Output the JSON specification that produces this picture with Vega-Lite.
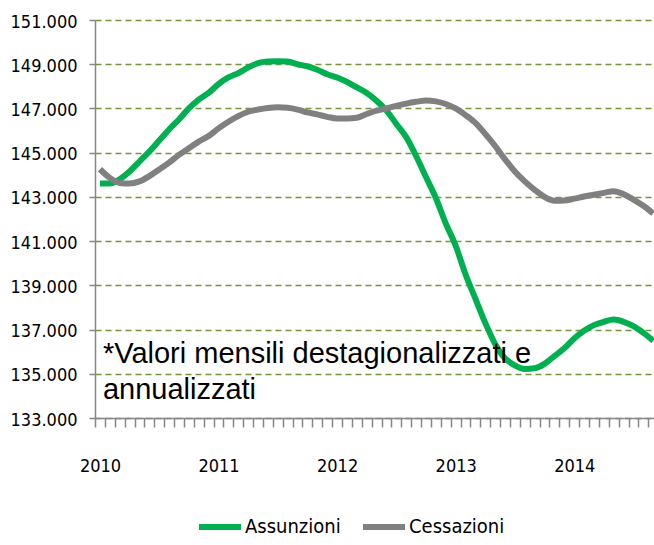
{
  "$schema": "https://vega.github.io/schema/vega-lite/v6.json",
  "autosize": {"type": "none"},
  "width": 559,
  "height": 398,
  "padding": {"left": 95, "top": 20, "right": 0, "bottom": 127},
  "background": "white",
  "config": {"view": {"stroke": null}},
  "layer": [
    {
      "data": {
        "values": [
          {"m": 0, "Assunzioni": 143600, "Cessazioni": 144250},
          {"m": 1, "Assunzioni": 143600, "Cessazioni": 143860},
          {"m": 2, "Assunzioni": 143800, "Cessazioni": 143630},
          {"m": 3, "Assunzioni": 144150, "Cessazioni": 143600},
          {"m": 4, "Assunzioni": 144600, "Cessazioni": 143700},
          {"m": 5, "Assunzioni": 145050, "Cessazioni": 143940},
          {"m": 6, "Assunzioni": 145550, "Cessazioni": 144240},
          {"m": 7, "Assunzioni": 146050, "Cessazioni": 144550},
          {"m": 8, "Assunzioni": 146500, "Cessazioni": 144900},
          {"m": 9, "Assunzioni": 147000, "Cessazioni": 145200},
          {"m": 10, "Assunzioni": 147400, "Cessazioni": 145500},
          {"m": 11, "Assunzioni": 147700, "Cessazioni": 145750},
          {"m": 12, "Assunzioni": 148100, "Cessazioni": 146100},
          {"m": 13, "Assunzioni": 148400, "Cessazioni": 146400},
          {"m": 14, "Assunzioni": 148600, "Cessazioni": 146650},
          {"m": 15, "Assunzioni": 148850, "Cessazioni": 146850},
          {"m": 16, "Assunzioni": 149050, "Cessazioni": 146950},
          {"m": 17, "Assunzioni": 149120, "Cessazioni": 147020},
          {"m": 18, "Assunzioni": 149140, "Cessazioni": 147050},
          {"m": 19, "Assunzioni": 149120, "Cessazioni": 147030},
          {"m": 20, "Assunzioni": 149000, "Cessazioni": 146950},
          {"m": 21, "Assunzioni": 148900, "Cessazioni": 146820},
          {"m": 22, "Assunzioni": 148750, "Cessazioni": 146730},
          {"m": 23, "Assunzioni": 148550, "Cessazioni": 146620},
          {"m": 24, "Assunzioni": 148400, "Cessazioni": 146550},
          {"m": 25, "Assunzioni": 148200, "Cessazioni": 146550},
          {"m": 26, "Assunzioni": 147950, "Cessazioni": 146580},
          {"m": 27, "Assunzioni": 147700, "Cessazioni": 146750},
          {"m": 28, "Assunzioni": 147350, "Cessazioni": 146900},
          {"m": 29, "Assunzioni": 146900, "Cessazioni": 147000},
          {"m": 30, "Assunzioni": 146300, "Cessazioni": 147120},
          {"m": 31, "Assunzioni": 145700, "Cessazioni": 147220},
          {"m": 32, "Assunzioni": 144850, "Cessazioni": 147300},
          {"m": 33, "Assunzioni": 143900, "Cessazioni": 147360},
          {"m": 34, "Assunzioni": 142950, "Cessazioni": 147320},
          {"m": 35, "Assunzioni": 141800, "Cessazioni": 147200},
          {"m": 36, "Assunzioni": 140800, "Cessazioni": 147000},
          {"m": 37, "Assunzioni": 139500, "Cessazioni": 146700},
          {"m": 38, "Assunzioni": 138400, "Cessazioni": 146350},
          {"m": 39, "Assunzioni": 137300, "Cessazioni": 145850},
          {"m": 40, "Assunzioni": 136350, "Cessazioni": 145300},
          {"m": 41, "Assunzioni": 135700, "Cessazioni": 144700},
          {"m": 42, "Assunzioni": 135380, "Cessazioni": 144150},
          {"m": 43, "Assunzioni": 135220, "Cessazioni": 143700},
          {"m": 44, "Assunzioni": 135250, "Cessazioni": 143320},
          {"m": 45, "Assunzioni": 135450, "Cessazioni": 143000},
          {"m": 46, "Assunzioni": 135800, "Cessazioni": 142830},
          {"m": 47, "Assunzioni": 136150, "Cessazioni": 142840},
          {"m": 48, "Assunzioni": 136600, "Cessazioni": 142920},
          {"m": 49, "Assunzioni": 136950, "Cessazioni": 143020},
          {"m": 50, "Assunzioni": 137200, "Cessazioni": 143100},
          {"m": 51, "Assunzioni": 137350, "Cessazioni": 143180},
          {"m": 52, "Assunzioni": 137450, "Cessazioni": 143260},
          {"m": 53, "Assunzioni": 137350, "Cessazioni": 143120},
          {"m": 54, "Assunzioni": 137150, "Cessazioni": 142880},
          {"m": 55, "Assunzioni": 136850, "Cessazioni": 142600},
          {"m": 56, "Assunzioni": 136500, "Cessazioni": 142250}
        ]
      },
      "transform": [{"fold": ["Assunzioni", "Cessazioni"], "as": ["serie", "valore"]}],
      "mark": {"type": "line", "strokeWidth": 6, "interpolate": "monotone", "clip": true},
      "encoding": {
        "x": {
          "field": "m",
          "type": "quantitative",
          "scale": {"domain": [-0.5, 56.08], "nice": false, "zero": false},
          "axis": {
            "title": null,
            "tickCount": 200,
            "values": [-0.5,0.5,1.5,2.5,3.5,4.5,5.5,6.5,7.5,8.5,9.5,10.5,11.5,12.5,13.5,14.5,15.5,16.5,17.5,18.5,19.5,20.5,21.5,22.5,23.5,24.5,25.5,26.5,27.5,28.5,29.5,30.5,31.5,32.5,33.5,34.5,35.5,36.5,37.5,38.5,39.5,40.5,41.5,42.5,43.5,44.5,45.5,46.5,47.5,48.5,49.5,50.5,51.5,52.5,53.5,54.5,55.5],
            "labelExpr": "(datum.value + 0.5) % 12 == 0 ? '' + (2010 + (datum.value + 0.5) / 12) : ''",
            "labelOverlap": false,
            "labelBound": false,
            "labelFlush": false,
            "labelOffset": 5,
            "labelPadding": 30,
            "labelFont": "DejaVu Sans Condensed, sans-serif",
            "labelFontSize": 18,
            "labelColor": "#000000",
            "tickSize": 9,
            "tickColor": "#868686",
            "tickWidth": 1.5,
            "domainColor": "#868686",
            "domainWidth": 1.5,
            "grid": false
          }
        },
        "y": {
          "field": "valore",
          "type": "quantitative",
          "scale": {"domain": [133000, 151000], "nice": false, "zero": false},
          "axis": {
            "title": null,
            "values": [133000,135000,137000,139000,141000,143000,145000,147000,149000,151000],
            "labelExpr": "replace(format(datum.value, ','), ',', '.')",
            "labelFont": "DejaVu Sans Condensed, sans-serif",
            "labelFontSize": 18,
            "labelColor": "#000000",
            "labelPadding": 12,
            "labelOffset": 2,
            "tickSize": 6,
            "tickColor": "#868686",
            "tickWidth": 1.5,
            "domainColor": "#868686",
            "domainWidth": 1.5,
            "grid": true,
            "gridColor": "#77933C",
            "gridDash": [6, 4],
            "gridWidth": 1.5
          }
        },
        "color": {
          "field": "serie",
          "type": "nominal",
          "scale": {"domain": ["Assunzioni", "Cessazioni"], "range": ["#00B050", "#808080"]},
          "legend": {
            "title": null,
            "orient": "none",
            "direction": "horizontal",
            "legendX": 101,
            "legendY": 483,
            "symbolType": "stroke",
            "symbolSize": 1764,
            "symbolStrokeWidth": 6,
            "labelFont": "DejaVu Sans Condensed, sans-serif",
            "labelFontSize": 20,
            "labelColor": "#000000",
            "labelOffset": 1,
            "columnPadding": 10
          }
        }
      }
    },
    {
      "data": {"values": [{}]},
      "mark": {
        "type": "text",
        "text": ["*Valori mensili destagionalizzati  e", "annualizzati"],
        "font": "Liberation Sans, Arial, sans-serif",
        "fontSize": 29,
        "align": "left",
        "baseline": "alphabetic",
        "lineHeight": 36,
        "color": "#000000"
      },
      "encoding": {
        "x": {"datum": 0.3},
        "y": {"datum": 135480}
      }
    }
  ]
}
